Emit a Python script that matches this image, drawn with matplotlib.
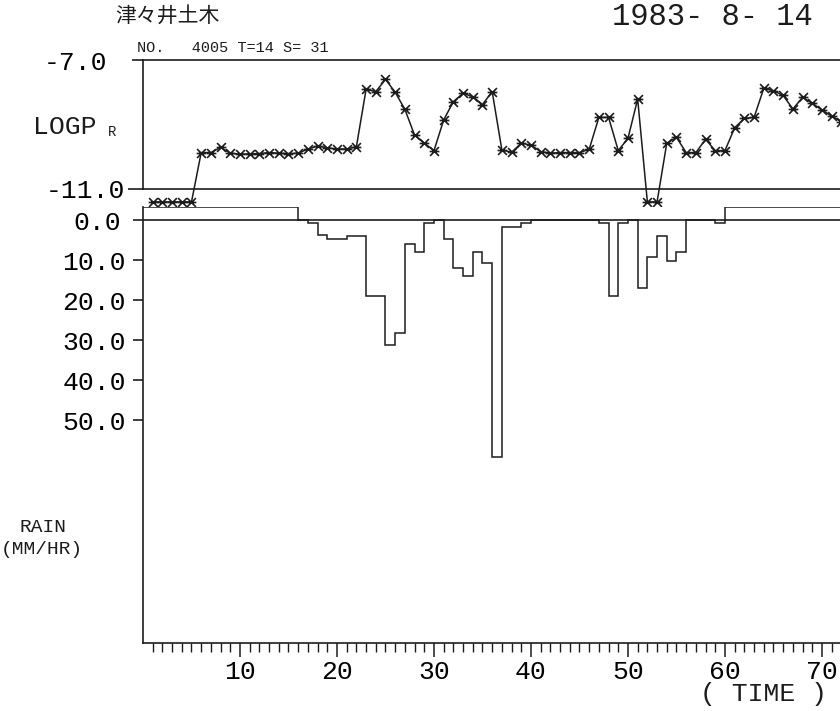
import numpy as np
import matplotlib
matplotlib.use('Agg')
import matplotlib.pyplot as plt
from matplotlib.path import Path

plt.rcParams['font.family'] = ['Liberation Mono', 'DejaVu Sans']

# ---- data ----
hours = list(range(1, 73))

# log P_R per hour (None = below -11.0, plotted on the floor row)
logp = [None, None, None, None, None, -9.87, -9.87, -9.71, -9.89, -9.92,
        -9.91, -9.90, -9.87, -9.89, -9.90, -9.89, -9.76, -9.67, -9.72, -9.76,
        -9.76, -9.69, -7.91, -7.98, -7.60, -8.00, -8.53, -9.33, -9.58, -9.81,
        -8.86, -8.29, -8.03, -8.14, -8.38, -7.98, -9.79, -9.86, -9.58, -9.64,
        -9.84, -9.89, -9.87, -9.87, -9.87, -9.77, -8.78, -8.78, -9.81, -9.43,
        -8.21, None, None, -9.58, -9.40, -9.87, -9.87, -9.46, -9.81, -9.81,
        -9.10, -8.81, -8.78, -7.88, -7.95, -8.10, -8.52, -8.16, -8.34, -8.55,
        -8.74, -8.91]

# hourly rain mm/hr for hour t = interval [t-1, t]  (None = no record)
rain = [None] * 16 + [
    0.0, 0.8, 3.8, 4.8, 4.8, 4.0, 4.0, 19.0, 19.0, 31.2,
    28.3, 6.0, 7.9, 0.8, 0.0, 4.8, 12.0, 13.9, 7.9, 10.8,
    59.2, 1.7, 1.7, 0.8, 0.0, 0.0, 0.0, 0.0, 0.0, 0.0,
    0.0, 0.8, 19.0, 0.8, 0.0, 16.9, 9.2, 4.0, 10.2, 7.9,
    0.0, 0.0, 0.0, 0.8] + [None] * 12

logp_ticks = [-7.0, -11.0]
logp_labels = ['-7.0', '-11.0']
rain_ticks = [0, 10, 20, 30, 40, 50]
rain_labels = ['0.0', '10.0', '20.0', '30.0', '40.0', '50.0']
time_ticks = [10, 20, 30, 40, 50, 60, 70]

LOGP_FLOOR = -11.4    # where out-of-range values are printed
RAIN_NODATA = -3.2    # level of the "no record" line

logp_plot = [LOGP_FLOOR if v is None else v for v in logp]
rain_plot = [RAIN_NODATA if v is None else v for v in rain]

# ---- figure ----
W, H = 840, 711
ink = '#1c1c1c'
fig = plt.figure(figsize=(W / 100, H / 100), dpi=100)

x0 = 143
ax1 = fig.add_axes([x0 / W, 1 - 189 / H, (W - x0) / W, (189 - 60) / H])
ax2 = fig.add_axes([x0 / W, 1 - 643 / H, (W - x0) / W, (643 - 207) / H])

for ax in (ax1, ax2):
    ax.set_xlim(0, 71.86)
    ax.spines['right'].set_visible(False)
    for s in ax.spines.values():
        s.set_color(ink)
        s.set_linewidth(1.2)

# star marker of the plotter: an X crossed by a horizontal bar
star = Path([(-1, -1), (1, 1), (-1, 1), (1, -1), (-1.1, 0), (1.1, 0)],
            [Path.MOVETO, Path.LINETO, Path.MOVETO, Path.LINETO,
             Path.MOVETO, Path.LINETO])

# top panel: log P_R
ax1.set_ylim(-11, -7)
ax1.plot(hours, logp_plot, color=ink, lw=1.1, marker=star, ms=7, mew=1.2,
         mfc='none', mec=ink, clip_on=False)
ax1.set_xticks([])
ax1.set_yticks(logp_ticks)
ax1.set_yticklabels(logp_labels, fontsize=19)
ax1.tick_params(axis='y', direction='out', length=8, width=1.2, color=ink)
t_top, t_bot = ax1.yaxis.get_major_ticks()
t_top.set_pad(18)
t_bot.set_pad(5)
t_bot.tick1line.set_markersize(11)

# bottom panel: rain
ax2.set_ylim(105.75, -3.25)
ax2.spines['top'].set_visible(False)
ax2.axhline(0, color=ink, lw=1.2)
ax2.stairs(rain_plot, np.arange(0, 73), baseline=None, color=ink, lw=1.1)
ax2.set_yticks(rain_ticks)
ax2.set_yticklabels(rain_labels, fontsize=19)
ax2.tick_params(axis='y', direction='out', length=7.5, width=1.2, color=ink, pad=5)
zero_tick = ax2.yaxis.get_major_ticks()[0]
zero_tick.tick1line.set_markersize(11)
zero_tick.set_pad(8)

ax2.set_xticks(time_ticks)
ax2.set_xticklabels([str(t) for t in time_ticks], fontsize=19)
ax2.set_xticks([t for t in range(1, 72) if t % 10], minor=True)
ax2.tick_params(axis='x', which='major', direction='out', length=10, width=1.1, color=ink, pad=2)
ax2.tick_params(axis='x', which='minor', direction='out', length=6.5, width=1.0, color=ink)

# ---- lettering ----
fig.text(115 / W, 1 - 16 / H, '津々井土木', family=['Noto Sans CJK JP', 'DejaVu Sans'],
         fontsize=15, va='center', ha='left', color=ink)
fig.text(612 / W, 1 - 17 / H, '1983- 8- 14', fontsize=22, va='center', ha='left', color=ink)
fig.text(137 / W, 1 - 48 / H, 'NO.   4005 T=14 S= 31', fontsize=11, va='center', ha='left', color=ink)
fig.text(33 / W, 1 - 127 / H, 'LOGP', fontsize=19, va='center', ha='left', color=ink)
fig.text(108 / W, 1 - 132 / H, 'R', fontsize=10, va='center', ha='left', color=ink)
fig.text(43 / W, 1 - 527 / H, 'RAIN', fontsize=14, va='center', ha='center', color=ink)
fig.text(42 / W, 1 - 549 / H, '(MM/HR)', fontsize=14, va='center', ha='center', color=ink)
fig.text(763 / W, 1 - 694 / H, '( TIME )', fontsize=19, va='center', ha='center', color=ink)

fig.savefig('out.png', dpi=100)
